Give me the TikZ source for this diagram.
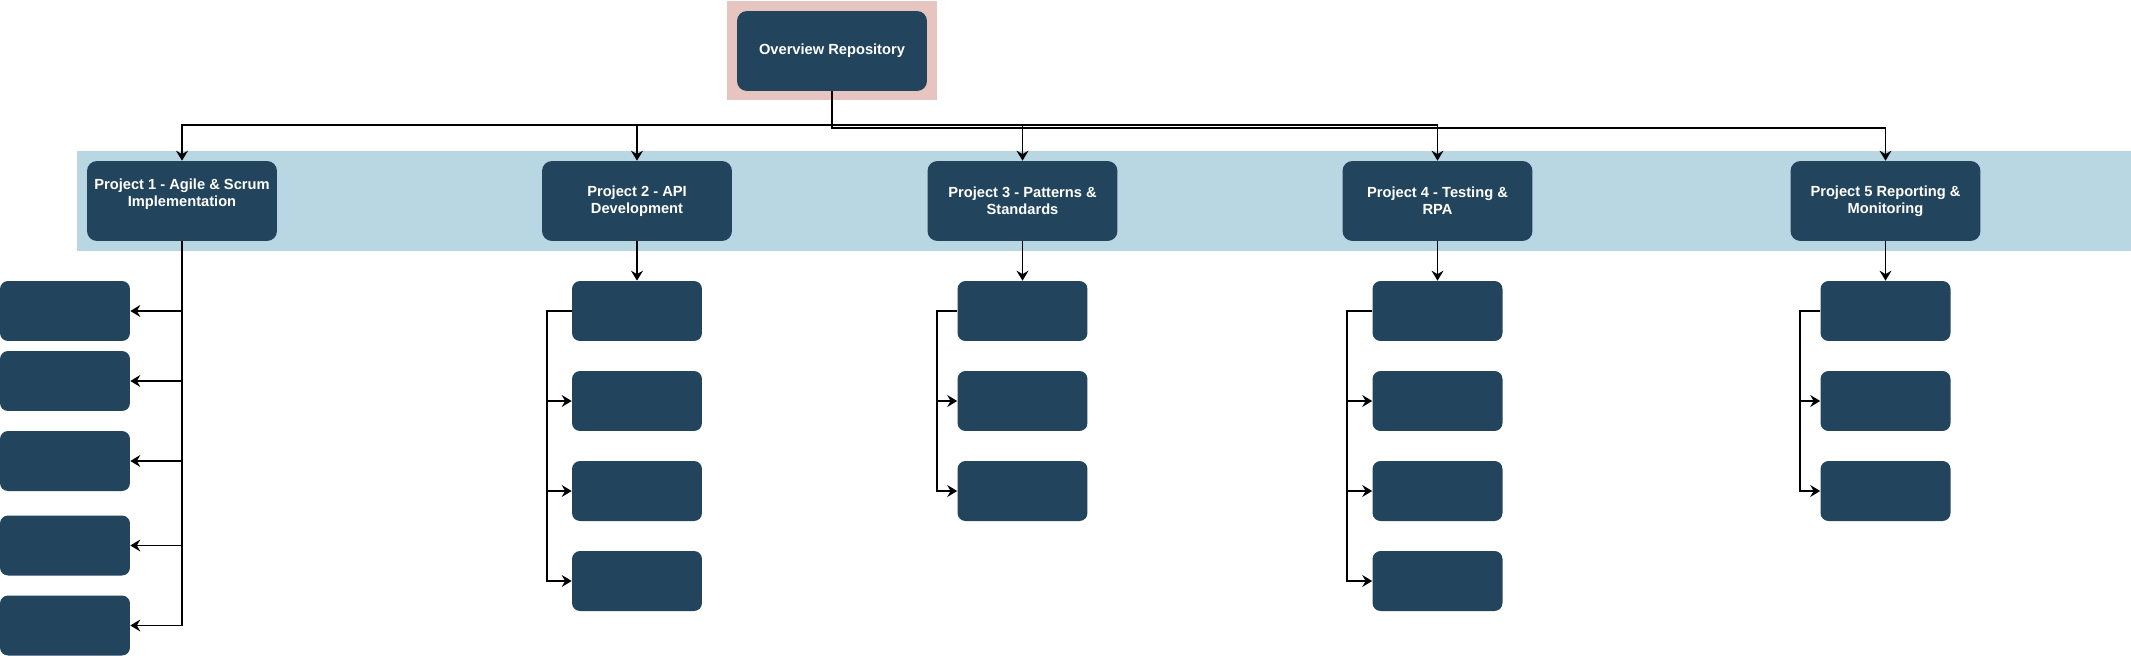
\documentclass[tikz,border=0pt]{standalone}
\usepackage{fontspec}
\setmainfont{Liberation Sans}
\usetikzlibrary{arrows.meta}
\definecolor{repnavy}{HTML}{23445D}
\definecolor{repband}{HTML}{B9D6E3}
\definecolor{reppink}{HTML}{E6C5C0}
\tikzset{
  projbox/.style={fill=repnavy,rounded corners=0.2cm,minimum width=3.8cm,minimum height=1.6cm,
    inner sep=0pt,text=white,align=center,font=\bfseries\fontsize{8.35}{9.65}\selectfont},
  taskbox/.style={fill=repnavy,rounded corners=0.16cm,minimum width=2.6cm,minimum height=1.2cm,inner sep=0pt},
  link/.style={draw=black,line width=0.8pt,-{Stealth[length=2mm,width=2.4mm,inset=0.7mm]}}
}

\begin{document}
\begin{tikzpicture}[x=0.02cm,y=-0.02cm]
  \useasboundingbox (0,0) rectangle (2131,656);
  \fill[reppink] (727,1) rectangle (937,100);
  \fill[repband] (77,151) rectangle (2131,251);

  \node[projbox] (ov) at (832,51) {Overview Repository};
  \node[projbox] (p1) at (182,201) {Project 1 - Agile \& Scrum\\Implementation\\~};
  \node[projbox] (p2) at (637,201) {Project 2 - API\\Development};
  \node[projbox] (p3) at (1022.5,201) {Project 3 - Patterns \&\\Standards};
  \node[projbox] (p4) at (1437.5,201) {Project 4 - Testing \&\\RPA};
  \node[projbox] (p5) at (1885.5,201) {Project 5 Reporting \&\\Monitoring};

  \node[taskbox] (c11) at (65,311) {};
  \node[taskbox] (c12) at (65,381) {};
  \node[taskbox] (c13) at (65,461) {};
  \node[taskbox] (c14) at (65,545.5) {};
  \node[taskbox] (c15) at (65,625.5) {};
  \node[taskbox] (c21) at (637,311) {};
  \node[taskbox] (c22) at (637,401) {};
  \node[taskbox] (c23) at (637,491) {};
  \node[taskbox] (c24) at (637,581) {};
  \node[taskbox] (c31) at (1022.5,311) {};
  \node[taskbox] (c32) at (1022.5,401) {};
  \node[taskbox] (c33) at (1022.5,491) {};
  \node[taskbox] (c41) at (1437.5,311) {};
  \node[taskbox] (c42) at (1437.5,401) {};
  \node[taskbox] (c43) at (1437.5,491) {};
  \node[taskbox] (c44) at (1437.5,581) {};
  \node[taskbox] (c51) at (1885.5,311) {};
  \node[taskbox] (c52) at (1885.5,401) {};
  \node[taskbox] (c53) at (1885.5,491) {};

  \coordinate (bus) at (0,125);
  \coordinate (busb) at (0,128);
  \coordinate (k2) at (547,0);
  \coordinate (k3) at (937,0);
  \coordinate (k4) at (1347,0);
  \coordinate (k5) at (1800,0);

  % repository to projects
  \draw[link] (ov.south) -- (ov.south |- bus) -| (p1.north);
  \draw[link] (ov.south) -- (ov.south |- bus) -| (p2.north);
  \draw[link] (ov.south) -- (ov.south |- bus) -| (p3.north);
  \draw[link] (ov.south) -- (ov.south |- bus) -| (p4.north);
  \draw[link] (ov.south) -- (ov.south |- busb) -| (p5.north);

  % project 1
  \draw[link] (p1.south) |- (c11.east);
  \draw[link] (p1.south) |- (c12.east);
  \draw[link] (p1.south) |- (c13.east);
  \draw[link] (p1.south) |- (c14.east);
  \draw[link] (p1.south) |- (c15.east);

  % project 2
  \draw[link] (p2) -- (c21);
  \draw[link] (c21.west) -- (k2 |- c21) |- (c22.west);
  \draw[link] (c21.west) -- (k2 |- c21) |- (c23.west);
  \draw[link] (c21.west) -- (k2 |- c21) |- (c24.west);

  % project 3
  \draw[link] (p3) -- (c31);
  \draw[link] (c31.west) -- (k3 |- c31) |- (c32.west);
  \draw[link] (c31.west) -- (k3 |- c31) |- (c33.west);

  % project 4
  \draw[link] (p4) -- (c41);
  \draw[link] (c41.west) -- (k4 |- c41) |- (c42.west);
  \draw[link] (c41.west) -- (k4 |- c41) |- (c43.west);
  \draw[link] (c41.west) -- (k4 |- c41) |- (c44.west);

  % project 5
  \draw[link] (p5) -- (c51);
  \draw[link] (c51.west) -- (k5 |- c51) |- (c52.west);
  \draw[link] (c51.west) -- (k5 |- c51) |- (c53.west);
\end{tikzpicture}
\end{document}
